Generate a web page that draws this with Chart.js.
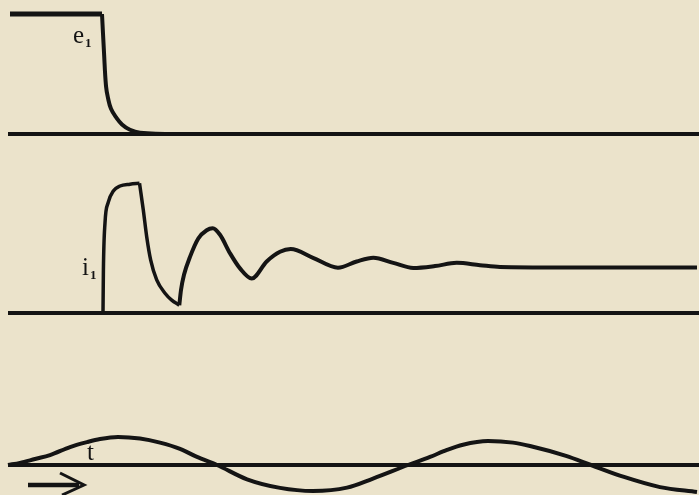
<!DOCTYPE html>
<html>
<head>
<meta charset="utf-8">
<script src="https://cdn.jsdelivr.net/npm/chart.js@4.4.1/dist/chart.umd.min.js"></script>
<style>
  html, body { margin: 0; padding: 0; background: #ebe3cb; }
  #wrap { width: 699px; height: 495px; position: relative; }
</style>
</head>
<body>
<div id="wrap"><canvas id="c" width="699" height="495"></canvas></div>
<script>
// ---- Data (time in arbitrary units, values normalised per trace) ----
const axisTime = [8, 699];

// e1: applied voltage, step removed
const e1FlatTime = [10, 102];
const e1FlatValues = [1, 1];
const e1DecayTime = [102, 104, 106, 108, 111, 116, 122, 130, 140, 165];
const e1DecayValues = [1, 0.68, 0.40, 0.30, 0.21, 0.14, 0.08, 0.035, 0.01, 0];

// i1: current, rise / fall / ringing
const i1RiseTime = [103, 103.4, 105, 108.3, 113.3, 120, 130, 139.5];
const i1RiseValues = [0, 0.93, 1.96, 2.41, 2.65, 2.76, 2.80, 2.82];
const i1FallTime = [139.5, 143.3, 146.7, 150.7, 156.7, 165, 171.7, 179.3];
const i1FallValues = [2.82, 2.24, 1.66, 1.15, 0.72, 0.43, 0.28, 0.17];
const i1RingTime = [179.3, 181, 184, 190, 198.3, 206.7, 212.7, 220, 230, 240, 251.7, 266.7, 280, 290.7, 313, 338, 356.7, 373.3, 393.3, 413.3, 435, 456.7, 480, 500, 560, 697];
const i1RingValues = [0.17, 0.5, 0.83, 1.22, 1.62, 1.80, 1.84, 1.70, 1.30, 0.97, 0.75, 1.12, 1.33, 1.39, 1.20, 0.985, 1.12, 1.20, 1.09, 0.98, 1.02, 1.09, 1.04, 1.0, 0.99, 0.99];

// t: sinusoidal reference trace
const tTime = [8, 20, 35, 50, 70, 87, 100, 118, 140, 160, 180, 197, 217, 247, 280, 313, 347, 373, 408, 430, 447, 463, 488, 513, 530, 566, 591, 624, 660, 697];
const tValues = [0, 0.08, 0.23, 0.38, 0.69, 0.88, 1.0, 1.08, 1.02, 0.86, 0.62, 0.31, 0, -0.55, -0.88, -1.0, -0.87, -0.52, 0, 0.31, 0.58, 0.78, 0.92, 0.86, 0.73, 0.35, 0, -0.46, -0.85, -1.04];

const labels = [
  { text: 'e', sub: '1', x: 73, y: 0.758, axis: 'y1', subDrop: 4 },
  { text: 'i', sub: '1', x: 82, y: 0.82, axis: 'y2', subDrop: 4 },
  { text: 't', sub: '', x: 87, y: 0.19, axis: 'y3', subDrop: 0 }
];

// ---- helpers ----
const pts = (xs, ys) => xs.map((x, i) => ({ x, y: ys[i] }));
const H = 495;
const rng = (base, unit) => ({ min: (base - H) / unit, max: base / unit });
const r1 = rng(134, 120), r2 = rng(313, 46), r3 = rng(465, 26);
const INK = '#141414';

function ds(data, axis, width, mode) {
  return {
    data, yAxisID: axis, borderColor: INK, borderWidth: width,
    pointRadius: 0, fill: false, tension: mode === 'linear' ? 0 : 0.4,
    cubicInterpolationMode: mode === 'monotone' ? 'monotone' : 'default',
    borderCapStyle: 'butt', borderJoinStyle: 'round', clip: false
  };
}

const overlay = {
  id: 'overlay',
  afterDatasetsDraw(chart) {
    const ctx = chart.ctx, xs = chart.scales.x;
    ctx.save();
    ctx.fillStyle = INK;
    ctx.textBaseline = 'alphabetic';
    labels.forEach(l => {
      const px = xs.getPixelForValue(l.x);
      const py = chart.scales[l.axis].getPixelForValue(l.y);
      ctx.font = '25px "Liberation Serif", serif';
      ctx.fillText(l.text, px, py);
      const w = ctx.measureText(l.text).width;
      if (l.sub) {
        ctx.font = 'bold 13px "Liberation Serif", serif';
        ctx.fillText(l.sub, px + w + 1, py + l.subDrop);
      }
    });
    // time arrow
    const y3 = chart.scales.y3;
    const ay = y3.getPixelForValue(-0.77);
    const ax0 = xs.getPixelForValue(28), ax1 = xs.getPixelForValue(84);
    ctx.strokeStyle = INK;
    ctx.lineWidth = 4.5;
    ctx.beginPath(); ctx.moveTo(ax0, ay); ctx.lineTo(ax1 - 5, ay); ctx.stroke();
    ctx.lineWidth = 3;
    ctx.lineJoin = 'miter';
    ctx.beginPath();
    ctx.moveTo(xs.getPixelForValue(60), ay - 12);
    ctx.lineTo(ax1, ay);
    ctx.lineTo(xs.getPixelForValue(62), ay + 10);
    ctx.stroke();
    ctx.restore();
  }
};

new Chart(document.getElementById('c'), {
  type: 'line',
  data: {
    datasets: [
      ds(pts(axisTime, [0, 0]), 'y1', 4, 'linear'),
      ds(pts(e1FlatTime, e1FlatValues), 'y1', 5, 'linear'),
      ds(pts(e1DecayTime, e1DecayValues), 'y1', 4, 'default'),
      ds(pts(axisTime, [0, 0]), 'y2', 4, 'linear'),
      ds(pts(i1RiseTime, i1RiseValues), 'y2', 3.5, 'monotone'),
      ds(pts(i1FallTime, i1FallValues), 'y2', 3.5, 'monotone'),
      ds(pts(i1RingTime, i1RingValues), 'y2', 4, 'monotone'),
      ds(pts(axisTime, [0, 0]), 'y3', 4, 'linear'),
      ds(pts(tTime, tValues), 'y3', 4, 'monotone')
    ]
  },
  options: {
    responsive: false,
    animation: false,
    devicePixelRatio: 1,
    layout: { padding: 0 },
    plugins: { legend: { display: false }, tooltip: { enabled: false } },
    scales: {
      x: { type: 'linear', min: 0, max: 699, display: false },
      y1: { type: 'linear', min: r1.min, max: r1.max, display: false },
      y2: { type: 'linear', min: r2.min, max: r2.max, display: false },
      y3: { type: 'linear', min: r3.min, max: r3.max, display: false }
    }
  },
  plugins: [overlay]
});
</script>
</body>
</html>
